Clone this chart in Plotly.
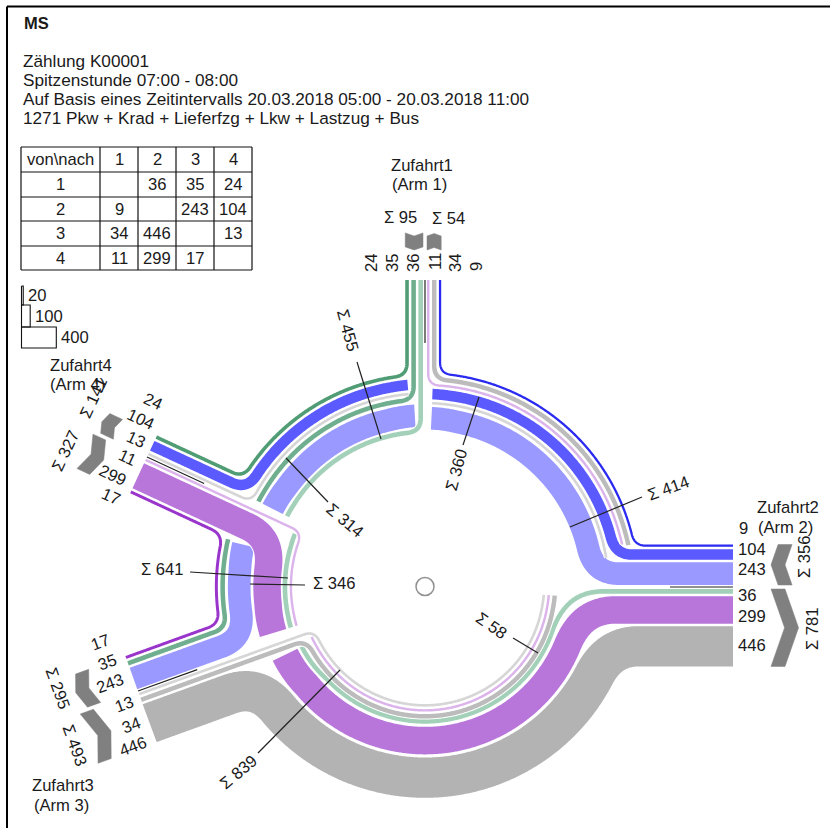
import math
import plotly.graph_objects as go

# ---------- data ----------
ARMS = [1, 2, 3, 4]
FLOW_1 = [None, 36, 35, 24]
FLOW_2 = [9, None, 243, 104]
FLOW_3 = [34, 446, None, 13]
FLOW_4 = [11, 299, 17, None]
MATRIX = [FLOW_1, FLOW_2, FLOW_3, FLOW_4]
TITLE = "MS"
INFO_LINES = ["Zählung K00001", "Spitzenstunde 07:00 - 08:00",
              "Auf Basis eines Zeitintervalls 20.03.2018 05:00 - 20.03.2018 11:00",
              "1271 Pkw + Krad + Lieferfzg + Lkw + Lastzug + Bus"]
LEGEND_VALUES = [20, 100, 400]

def V(f):
    return MATRIX[f[0]-1][f[1]-1]

# ---------- styling / scale ----------
FONT = "Liberation Sans, Arial, sans-serif"
TXT = "#1a1a1a"
FS = 16.6
K, W0, GAP = 0.087, 1.5, 2.5
COL = {(2,1):"#2a2af0", (2,4):"#5a5aff", (2,3):"#9999ff",
       (1,4):"#4f9c75", (1,3):"#6fae8e", (1,2):"#a3d0b8",
       (4,3):"#9a35cc", (4,2):"#b976da", (4,1):"#dcb4ec",
       (3,2):"#b3b3b3", (3,1):"#bcbcbc", (3,4):"#d6d6d6"}
C = (425.0, 586.5)

def width(v):
    return W0 + K*v

# ---------- geometry helpers ----------
ARM = {
    1: dict(O=(425,280), u=(0,-1), A=[(1,2),(1,3),(1,4)], B=[(4,1),(3,1),(2,1)], na=(-1,0), u0=30),
    2: dict(O=(733,587), u=(1,0), A=[(2,3),(2,4),(2,1)], B=[(1,2),(4,2),(3,2)], na=(0,-1), u0=38),
    3: dict(O=(138,691), u=(-0.94,0.34), A=[(2,3),(1,3),(4,3)], B=[(3,4),(3,1),(3,2)], na=(-0.34,-0.94), u0=39),
    4: dict(O=(147,457), u=(-0.907,-0.421), A=[(3,4),(2,4),(1,4)], B=[(4,1),(4,2),(4,3)], na=(0.421,-0.907), u0=38),
}
LANE = {}
SPAN = {}
for k, a in ARM.items():
    for side, sgn in (("A",1),("B",-1)):
        acc = 2.0
        for f in a[side]:
            w = width(V(f))
            off = sgn*(acc+w/2)
            LANE[(k,f)] = (a["O"][0]+a["na"][0]*off, a["O"][1]+a["na"][1]*off)
            acc += w+GAP
        SPAN[(k,side)] = acc-GAP

SECTOR = {
    "NE": dict(R0=157.0, order=[(2,3),(3,4),(2,4),(4,1),(3,1),(2,1)], arms=(2,1), hint=(90,0)),
    "NW": dict(R0=152.5, order=[(1,2),(2,3),(1,3),(3,4),(2,4),(1,4)], arms=(1,4), hint=(0,-65)),
    "W":  dict(R0=133.0, order=[(4,1),(1,2),(4,2),(2,3),(1,3),(4,3)], arms=(4,3), hint=(-65,-110)),
    "S":  dict(R0=117.7, order=[(3,4),(4,1),(3,1),(1,2),(4,2),(3,2)], arms=(3,2), hint=(-110,-270)),
}
RAD = {}
for s, d in SECTOR.items():
    acc = d["R0"]
    for f in d["order"]:
        w = width(V(f))
        RAD[(s,f)] = acc+w/2
        acc += w+GAP

def polar(r, a):
    t = math.radians(a)
    return (C[0]+r*math.sin(t), C[1]-r*math.cos(t))

def angle(p, hint):
    a = math.degrees(math.atan2(p[0]-C[0], -(p[1]-C[1])))
    while a-hint > 180: a -= 360
    while a-hint < -180: a += 360
    return a

def hit(P, k, r):
    d = (-ARM[k]["u"][0], -ARM[k]["u"][1])
    vx, vy = P[0]-C[0], P[1]-C[1]
    b = vx*d[0]+vy*d[1]
    c = vx*vx+vy*vy-r*r
    disc = max(b*b-c, 0)
    t = -b-math.sqrt(disc)
    return (P[0]+d[0]*t, P[1]+d[1]*t)

def dense(a, b):
    n = max(int(math.hypot(b[0]-a[0], b[1]-a[1])), 1)
    return [(a[0]+(b[0]-a[0])*i/n, a[1]+(b[1]-a[1])*i/n) for i in range(n)]

def smooth(pts, L):
    h = int(L/2)
    out = []
    n = len(pts)
    for i in range(n):
        q = min(h, i, n-1-i)
        seg = pts[i-q:i+q+1]
        out.append((sum(p[0] for p in seg)/len(seg), sum(p[1] for p in seg)/len(seg)))
    return out

def path(f, s, start="arm", end="arm", L=None):
    d = SECTOR[s]
    r = RAD[(s,f)]
    w = width(V(f))
    pts = []
    if start == "arm":
        P = LANE[(d["arms"][0], f)]
        H = hit(P, d["arms"][0], r)
        pts += dense(P, H)
        a1 = angle(H, d["hint"][0])
    else:
        a1 = start
    if end == "arm":
        E = LANE[(d["arms"][1], f)]
        H2 = hit(E, d["arms"][1], r)
        a2 = angle(H2, d["hint"][1])
    else:
        a2 = end
    n = max(int(abs(a2-a1)*math.radians(1)*r), 2)
    pts += [polar(r, a1+(a2-a1)*i/n) for i in range(n+1)]
    if end == "arm":
        pts += dense(H2, E)[1:] + [E]
    return smooth(pts, L if L else (w/2+7)/0.35)

SEGS = [
    ((3,2), "S", "arm", "arm", 62),
    ((4,2), "S", -116, "arm", 74),
    ((1,2), "S", -116, "arm", 84),
    ((3,1), "S", "arm", -266, None),
    ((3,4), "S", "arm", -266, None),
    ((4,1), "S", -114, -266, None),
    ((4,3), "W", "arm", "arm", None),
    ((1,3), "W", -76.5, "arm", None),
    ((2,3), "W", -77, "arm", None),
    ((1,2), "W", -68, -107, None),
    ((4,2), "W", "arm", -107, None),
    ((4,1), "W", "arm", -107, None),
    ((2,3), "NW", -3.4, -63, None),
    ((1,2), "NW", "arm", -63, None),
    ((1,3), "NW", "arm", -63, None),
    ((3,4), "NW", -4.9, "arm", None),
    ((2,4), "NW", -4.9, "arm", None),
    ((1,4), "NW", "arm", "arm", None),
    ((2,3), "NE", "arm", 2.2, None),
    ((3,4), "NE", 81, 2.2, None),
    ((2,4), "NE", "arm", 2.2, None),
    ((4,1), "NE", 78, "arm", None),
    ((3,1), "NE", 78.5, "arm", None),
    ((2,1), "NE", "arm", "arm", None),
]

fig = go.Figure()

def line(xs, ys, color="#000000", w=1.0):
    fig.add_trace(go.Scatter(x=xs, y=ys, mode="lines",
                             line=dict(color=color, width=w, simplify=False),
                             hoverinfo="skip", showlegend=False))

def text(x, y, s, size=FS, rot=0, anchor="center", bold=False):
    fig.add_annotation(x=x, y=y, xref="x", yref="y", text=f"<b>{s}</b>" if bold else s,
                       showarrow=False, textangle=rot, xanchor=anchor, yanchor="middle",
                       font=dict(family=FONT, size=size, color=TXT))

# bands
for f, s, a, b, L in SEGS:
    p = path(f, s, a, b, L)
    xs, ys = [q[0] for q in p], [q[1] for q in p]
    w = width(V(f))
    line(xs, ys, "#ffffff", w+2)
    line(xs, ys, COL[f], w)

# separators at arms
SEP_LEN = 63
for k, a in ARM.items():
    O, u = a["O"], a["u"]
    line([O[0], O[0]-u[0]*SEP_LEN], [O[1], O[1]-u[1]*SEP_LEN], "#222222", 1.2)

# chevrons
def chevron(k, side, inward):
    a = ARM[k]
    O, u, n = a["O"], a["u"], a["na"]
    sgn = 1 if side == "A" else -1
    span = SPAN[(k,side)]
    v1, v2 = sgn*2.0, sgn*span
    vm = (v1+v2)/2
    e = 0.35*abs(v2-v1)/2
    b = 14
    u0 = a["u0"]
    if inward:
        loc = [(u0+e,v1),(u0+e+b,v1),(u0+b,vm),(u0+e+b,v2),(u0+e,v2),(u0,vm)]
    else:
        loc = [(u0,v1),(u0+b,v1),(u0+b+e,vm),(u0+b,v2),(u0,v2),(u0+e,vm)]
    xs = [O[0]+u[0]*p+n[0]*q for p,q in loc]+[O[0]+u[0]*loc[0][0]+n[0]*loc[0][1]]
    ys = [O[1]+u[1]*p+n[1]*q for p,q in loc]+[O[1]+u[1]*loc[0][0]+n[1]*loc[0][1]]
    fig.add_trace(go.Scatter(x=xs, y=ys, mode="lines", fill="toself", fillcolor="#808080",
                             line=dict(color="#808080", width=0.5), hoverinfo="skip", showlegend=False))

for k, side, inward in [(1,"A",True),(1,"B",False),(2,"A",True),(2,"B",False),
                        (3,"A",False),(3,"B",True),(4,"A",False),(4,"B",True)]:
    chevron(k, side, inward)

def sig(*fl):
    return "Σ %d" % sum(V(f) for f in fl)

# cross-section lines + labels
CUTS = [
    ((357,362),(381,439)), ((479,397),(463,445)), ((570,527),(642,497)), ((286,458),(328,502)),
    ((190,572),(288,578)), ((250,584),(305,585)), ((513,638),(538,653)), ((258,753),(340,670)),
]
for a, b in CUTS:
    line([a[0],b[0]], [a[1],b[1]], "#222222", 1.2)

text(348, 330, sig(*SECTOR["NW"]["order"]), rot=75)
text(456, 470, sig((2,4),(3,4),(2,3)), rot=-75)
text(668, 488, sig(*SECTOR["NE"]["order"]), rot=-20)
text(345, 520, sig((2,3),(1,3),(1,2)), rot=40)
text(162, 569, sig(*SECTOR["W"]["order"]))
text(334, 583, sig((4,2),(1,2),(4,1)))
text(491, 625, sig((3,4),(4,1),(3,1)), rot=35)
text(238, 772, sig(*SECTOR["S"]["order"]), rot=-40)

# centre circle
fig.add_shape(type="circle", x0=C[0]-9, x1=C[0]+9, y0=C[1]-9, y1=C[1]+9,
              line=dict(color="#909090", width=1.5))

# frame
line([7,7],[6.5,828], "#000000", 2)
line([7,830],[6.5,6.5], "#000000", 2)

# title and info
text(22, 23, TITLE, size=16.5, anchor="left", bold=True)
for y, s in zip([61,80,99,118], INFO_LINES):
    text(20.5, y, s, size=17.2, anchor="left")

# table
COLX = [21,100,138,176,214,252]
ROWY = [147,172,197,221,246,270]
for x in COLX:
    line([x,x],[ROWY[0],ROWY[-1]], "#111111", 1.2)
for y in ROWY:
    line([COLX[0],COLX[-1]],[y,y], "#111111", 1.2)
text((COLX[0]+COLX[1])/2, (ROWY[0]+ROWY[1])/2, "von\\nach")
for i, h in enumerate(ARMS):
    text((COLX[i+1]+COLX[i+2])/2, (ROWY[0]+ROWY[1])/2, str(h))
    text((COLX[0]+COLX[1])/2, (ROWY[i+1]+ROWY[i+2])/2, str(h))
    for j in range(4):
        if MATRIX[i][j] is not None:
            text((COLX[j+1]+COLX[j+2])/2, (ROWY[i+1]+ROWY[i+2])/2, str(MATRIX[i][j]))

# size legend
LEG_Y = [286, 305, 327, 348]
for i, v in enumerate(LEGEND_VALUES):
    w = K*v
    x0, x1 = 21.5, 21.5+w
    y0, y1 = LEG_Y[i], LEG_Y[i+1]
    line([x0,x1,x1,x0,x0],[y0,y0,y1,y1,y0], "#111111", 1.1)
    text(x1+3, (y0+y1)/2, str(v), anchor="left")

# arm labels
text(422,165,"Zufahrt1"); text(419,184,"(Arm 1)")
text(788,507,"Zufahrt2"); text(785,527,"(Arm 2)")
text(63,785,"Zufahrt3"); text(61,805,"(Arm 3)")
text(81,365,"Zufahrt4"); text(77,384,"(Arm 4)")

text(400,217,sig(*ARM[1]["A"])); text(448,218,sig(*ARM[1]["B"]))
text(804,557,sig(*ARM[2]["A"]),rot=-90); text(812,629,sig(*ARM[2]["B"]),rot=-90)
text(58,688,sig(*ARM[3]["A"]),rot=70); text(75,745,sig(*ARM[3]["B"]),rot=70)
text(93,398,sig(*ARM[4]["A"]),rot=-65); text(65,451,sig(*ARM[4]["B"]),rot=-65)

LAB = [
    ((1,4),371,263,-90),((1,3),392,263,-90),((1,2),413,263,-90),
    ((4,1),435,262,-90),((3,1),455,263,-90),((2,1),476,267,-90),
    ((2,1),743,528,0),((2,4),752,549,0),((2,3),752,569,0),
    ((1,2),747,595,0),((4,2),752,616,0),((3,2),752,645,0),
    ((4,3),100,642,-20),((1,3),107,662,-20),((2,3),110,683,-20),
    ((3,4),124,704,-20),((3,1),131,725,-20),((3,2),133,746,-20),
    ((1,4),153,401,25),((2,4),141,419,25),((3,4),136,439,25),
    ((4,1),127,457,25),((4,2),113,475,25),((4,3),111,496,25),
]
for f, x, y, r in LAB:
    text(x, y, str(V(f)), rot=r)

fig.update_layout(width=830, height=828, margin=dict(l=0,r=0,t=0,b=0),
                  plot_bgcolor="white", paper_bgcolor="white", showlegend=False,
                  xaxis=dict(range=[0,830], visible=False, fixedrange=True),
                  yaxis=dict(range=[828,0], visible=False, fixedrange=True))
fig.write_html("out.html", config=dict(displayModeBar=False),
               post_script="document.body.style.margin='0';")
